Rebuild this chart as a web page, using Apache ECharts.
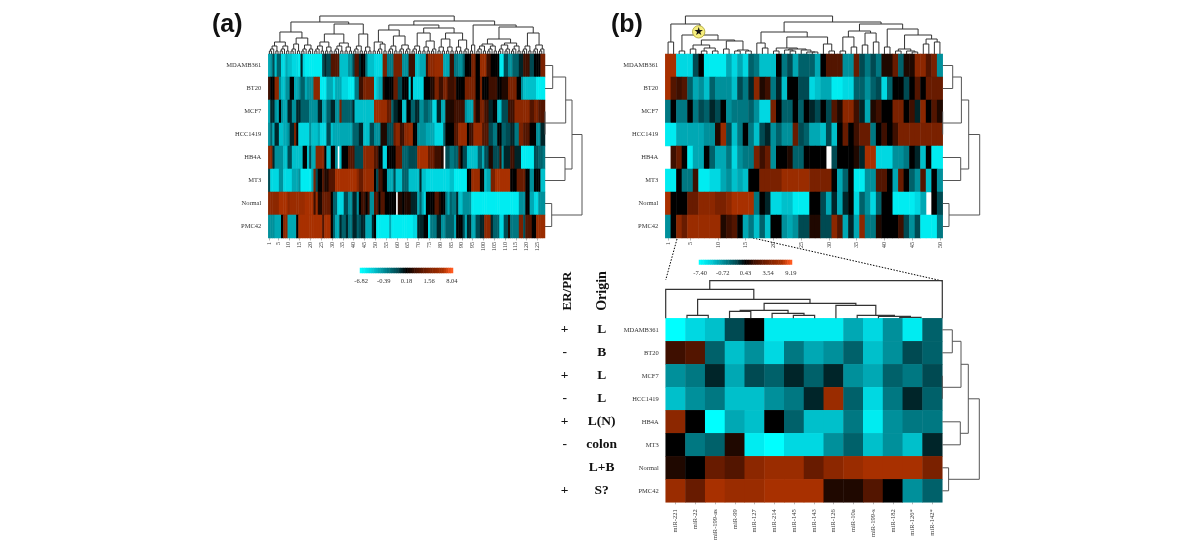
<!DOCTYPE html>
<html><head><meta charset="utf-8">
<style>html,body{margin:0;padding:0;background:#fff}#c{width:1200px;height:550px}#c canvas{filter:blur(.55px)}</style>
<script src="https://cdn.jsdelivr.net/npm/echarts@6/dist/echarts.min.js"></script>
</head><body><div id="c"></div>
<script>
const cellLines = ['MDAMB361','BT20','MCF7','HCC1419','HB4A','MT3','Normal','PMC42'];
const _ = null;
const a0=[-6,-5,-2,-7,-3,-3,-8,-8,-6,-7,-7,-8,-8,-8,-9,-1,-8,-9,-9,-9,-9,-9,-9,-9,-9,-2,-1,-2,-2,3,3,3,3,-7,-7,-7,-7,-5,-5,-2,3,3,-1,0,0,-4,-7,-7,-7,-8,-8,-8,-8,5,5,-4,-4,-4,5,5,5,5,-5,-5,-5,2,2,2,-7,-7,-6,-6,-6,2,6,6,6,7,7,7,7,-6,-6,-6,2,2,-4,-4,-5,-5,-3,0,0,0,5,5,0,0,7,7,7,2,2,0,0,0,0,-9,-9,-2,-2,-5,-5,-3,-3,-3,-1,-1,2,2,2,-2,-2,0,0,0,5,5];
const a1=[2,0,0,6,6,-5,-7,-7,-5,-5,0,0,-6,-6,-5,-3,-3,-6,-5,-5,-5,6,6,6,-9,-9,-9,-6,-6,-6,-8,-6,-6,-6,-8,-8,-8,-9,-9,-9,-4,-4,2,2,5,5,5,5,5,-8,-7,-6,-6,1,0,0,0,0,4,4,-2,-2,0,0,0,-8,0,-8,-8,-8,-8,-8,0,0,0,1,1,5,5,2,2,5,5,2,2,2,3,0,0,0,0,5,5,5,5,5,0,0,5,0,0,0,2,2,2,2,0,0,1,1,1,5,5,5,5,0,0,-5,-7,-7,-7,-7,-7,-7,-9,-9,-9,-9];
const a2=[-6,-1,-1,-5,-6,0,-5,-6,-6,-1,-1,-5,-5,-1,-1,-3,-3,-3,-3,-5,-5,-5,-5,-1,-1,-6,-6,-3,-3,-1,-1,-5,-5,5,-3,-3,-3,-3,-3,-1,-7,-7,-7,-7,-7,-7,-7,-7,-7,7,7,7,7,7,7,4,4,-3,-1,-1,0,0,-7,-7,0,0,-3,-3,-1,-1,-5,-5,-3,-3,-4,-4,-8,-8,-1,-1,-6,-6,1,1,1,1,2,2,2,2,2,-5,-6,-6,-6,4,1,1,5,5,2,2,-1,-1,0,0,-7,-7,-2,-2,-2,2,2,2,6,6,6,6,6,6,6,3,3,5,5,3,3,3];
const a3=[-5,-3,-6,-1,-1,-7,-7,-6,-6,-5,-1,-1,5,0,-8,-8,-8,-8,-8,-5,-7,-7,-7,-6,-8,-8,-8,-2,-2,-7,-6,-6,-6,-6,-6,-6,-6,-6,-6,-3,-3,-3,-1,-1,-7,-7,-7,-2,-2,-5,-5,-5,1,1,1,-2,-2,-2,4,6,6,2,2,6,6,7,7,0,0,-5,-5,-5,-5,-6,-6,-6,-6,-8,-8,-8,-8,-3,0,0,0,0,3,3,7,7,7,7,0,2,2,7,7,7,7,3,3,3,-2,-2,-4,-4,0,0,-3,-3,-2,-2,-1,-1,-4,-4,5,5,3,3,3,0,0,0,-5,-5,-1,-1];
const a4=[6,6,-1,-5,-5,-5,-5,-7,-7,-2,-2,-7,-7,-7,-7,-7,0,0,-7,-2,-6,-6,6,6,6,6,0,-7,-7,0,0,-5,_,-7,0,0,0,3,3,3,-2,-2,-2,-2,6,6,6,6,6,3,3,0,0,-8,-8,0,0,0,0,4,4,4,-3,-3,-3,-2,-2,-2,-2,8,8,8,8,8,4,4,4,2,2,2,1,_,-2,-2,-4,-4,-3,-3,3,0,-2,-2,-7,-7,-7,-7,-7,-3,-3,-6,-2,-2,1,1,-2,-2,-2,2,-5,-1,-1,-1,2,2,-1,-1,-1,-9,-9,-9,-9,-9,-9,-2,-2,-3,-3,-4];
const a5=[-2,-8,-8,-8,-8,-5,-5,-8,-8,-8,-8,-6,-6,-6,-5,-9,-9,-9,-9,-9,-6,5,-2,0,0,3,1,1,3,3,3,8,8,8,8,8,8,8,8,8,8,6,4,4,7,7,7,7,7,0,-2,2,2,0,0,-6,-6,-6,-2,-7,-7,-7,-3,-3,-3,-7,-7,-7,-7,-7,-1,-7,-7,-8,-8,-8,-8,-8,-8,-8,-8,-8,-8,-8,-7,-7,-9,-9,-9,-9,-9,-9,0,0,7,7,7,7,0,0,-7,-6,-6,5,5,8,8,8,8,8,8,8,0,0,0,4,4,4,4,0,0,-5,-5,0,0,0,-7,-7];
const a6=[6,6,6,6,6,8,8,8,8,6,7,7,7,7,7,7,7,8,8,8,8,2,7,1,1,4,4,4,4,0,-3,-3,-8,-8,-8,-2,-2,-5,-5,-1,-1,-5,0,2,2,0,2,-5,-5,3,3,0,3,3,0,0,0,0,0,_,1,1,0,1,1,1,-1,-1,-1,-6,-3,-6,-8,0,0,0,0,3,3,1,0,0,-4,-6,-3,-4,-4,-1,-7,-7,-5,-5,-5,-5,-9,-9,-9,-9,-9,-9,-9,-9,-9,-9,-9,-9,-9,-9,-9,-9,-9,-9,-9,-9,-9,-9,-5,-5,-5,0,0,-6,-6,-8,-8,-5,-5,-5];
const a7=[-5,-5,-5,-6,-6,-6,0,6,6,-6,-6,-6,-6,0,8,8,8,8,8,8,8,8,8,8,8,3,8,8,8,0,-3,-6,-6,-1,-3,-3,-1,-4,-4,-1,-1,-3,-2,-1,-1,-6,-6,-6,-1,0,-9,-9,-9,-9,-9,-9,-6,-9,-9,-9,-9,-9,-9,-9,-9,-9,-9,-8,-8,-1,-1,-1,0,0,-8,-4,-4,-4,-1,-1,-5,-5,-3,-3,-3,-3,-6,0,0,0,-2,-6,-1,-1,-6,-6,-2,-2,-1,-1,6,6,6,-1,-3,-3,-3,-8,-8,-2,-2,1,-4,-4,-4,-4,5,5,-2,3,3,3,0,0,7,7,7,7];
const b0=[8,8,-8,-8,-8,-2,0,-9,-9,-9,-9,-6,-8,-6,-8,-3,-4,-7,-7,-7,0,-4,-2,-6,-3,-3,-3,-6,0,3,3,3,-5,-5,4,-2,-4,-2,-4,1,1,4,-3,1,1,6,6,3,5,-5];
const b1=[8,3,2,3,-3,-6,-5,-7,-3,-5,-5,-5,-7,-2,-4,-1,6,1,2,-4,-1,-7,0,0,-2,-2,-8,-7,-6,-6,-9,-9,-8,-8,-3,-3,-5,-3,-2,-8,-3,0,0,-2,0,3,0,4,4,4];
const b2=[-4,0,-4,-4,0,-4,-2,-3,-1,-2,0,-5,-4,-4,-4,-3,-5,-8,-8,5,0,-3,-3,0,-3,0,-1,-2,0,-2,3,1,6,6,2,-1,-6,1,2,0,0,5,5,0,2,-1,6,0,3,1];
const b3=[-9,-9,-6,-6,-6,-6,-6,-5,-5,1,7,-2,-7,-4,0,-4,-7,-2,-1,-5,-3,-5,-5,4,-2,-3,-6,-6,-7,-2,-7,0,4,0,2,4,4,-4,0,2,0,2,5,5,5,5,5,5,5,5];
const b4=[_,2,4,0,-9,-6,-6,0,-3,-6,-6,-4,-8,-5,-4,-4,5,2,4,-5,0,0,1,-3,-3,0,0,0,0,_,-2,0,0,0,1,-1,8,8,-8,-8,-8,-5,-5,-4,0,-1,-7,0,-9,-9];
const b5=[-9,-9,0,-4,-4,2,-9,-9,-8,-8,-6,-5,-7,-6,-7,0,0,5,5,5,5,7,7,7,7,7,5,5,5,5,0,-6,-3,0,-9,-9,-5,-5,3,3,0,-6,4,0,-3,-5,3,-7,0,-5];
const b6=[8,0,0,0,4,4,6,6,6,5,5,6,8,8,8,8,-4,0,-1,-8,-8,-7,-7,-9,-9,-9,0,0,-2,-6,-1,-6,-1,0,-8,-3,-5,-8,-3,0,0,-9,-9,-9,-9,-8,-6,_,0,-2];
const b7=[-5,0,6,4,7,7,7,7,7,7,1,2,3,0,-6,-4,-7,-3,-7,0,0,-5,-6,-5,-2,-2,1,1,-2,-2,6,3,-6,-1,-6,6,-4,-4,1,0,0,0,2,-2,-5,-2,-9,-9,-9,-4];
const mirnas=['miR-221','miR-22','miR-199-as','miR-99','miR-127','miR-214','miR-145','miR-143','miR-126','miR-10a','miR-199-s','miR-182','miR-126*','miR-142*'];
const c0=[-10,-8,-7,-2,0,-9,-9,-9,-9,-6,-8,-5,-9,-3];
const c1=[2,3,-3,-7,-5,-8,-4,-6,-5,-3,-7,-5,-2,-3];
const c2=[-5,-4,-1,-6,-2,-3,-1,-3,-1,-5,-6,-3,-4,-2];
const c3=[-7,-5,-4,-7,-7,-5,-4,-1,7,-3,-8,-4,-1,-3];
const c4=[6,0,-10,-6,-7,0,-3,-7,-7,-4,-9,-5,-4,-4];
const c5=[0,-4,-3,1,-9,-10,-8,-8,-5,-3,-7,-5,-7,-1];
const c6=[1,0,4,3,6,7,7,4,6,7,8,8,8,5];
const c7=[7,4,8,7,7,8,8,8,1,1,3,0,-5,-3];
const erPr=['+','-','+','-','+','-',' ','+'];
const origin=['L','B','L','L','L(N)','colon','L+B','S?'];
const ticksA=[1,5,10,15,20,25,30,35,40,45,50,55,60,65,70,75,80,85,90,95,100,105,110,115,120,125];
const ticksB=[1,5,10,15,20,25,30,35,40,45,50];
const scaleLevels=[-10,-9.5,-9,-8.5,-8,-7.5,-7,-6.5,-6,-5.5,-5,-4.5,-4,-3.5,-3,-2.5,-2,-1.5,-1,-0.5,0,0.5,1,1.5,2,2.5,3,3.5,4,4.5,5,5.5,6,6.5,7,7.5,8,8.5,9,9.5,10];
const scaleLabelsA=['-6.82','-0.39','0.18','1.56','8.04'];
const scaleLabelsB=['-7.40','-0.72','0.43','3.54','9.19'];
const palette=['#00ffff','#00d8e2','#00a8b4','#007882','#004a52','#000000','#3e0f00','#681b00','#8c2700','#a83000','#ff5a20'];

// Dendrogram merge trees: [merge height, left child, right child]; 0 = leaf.
const p=[3,0,0], t=[5,p,0], q=[7,p,p], f=[8,t,p], s=[9,t,t];
const treeLA=[22,[12,f,f],[16,[10,t,p],s]];
const treeLB=[30,[20,[12,f,q],[11,f,q]],[20,f,q]];
const treeR1=[29,[24,[12,p,[10,t,p]],[18,f,[9,t,t]]],[26,[21,f,[13,q,t]],[21,[15,q,q],[14,q,t]]]];
const treeR2=[29,[9,p,0],[27,[15,[10,f,f],[11,s,f]],[21,f,s]]];
const treeTopA=[38,[32,treeLA,treeLB],[33,treeR1,treeR2]];
const treeB1=[30,[12,0,0],[19,[3,0,0],[14,[9,[5,0,0],[6,[3,0,0],[3,0,0]]],[13,[5,0,0],[4,[3,0,0],[3,0,0]]]]]];
const treeB2=[22,[11,0,[6,0,0]],[17,[6,[3,0,0],[5,[4,0,[3,0,0]],[4,0,[2,0,[2,0,0]]]]],[10,0,[3,0,0]]]];
const treeB3=[30,[23,[17,[3,0,0],[7,0,0]],[21,[9,0,0],[12,0,0]]],[25,[7,0,0],[19,[5,[3,0,0],[3,0,[2,0,0]]],[15,[10,0,0],[12,0,0]]]]];
const treeTopB=[38,treeB1,[32,treeB2,treeB3]];
const treeTopC=[37.7,[29,0,[19,[3,0,0],[15,[8,[7,0,0],[5,0,[3,0,0]]],[13,0,[3,0,[2,0,[1,0,0]]]]]]],0];
const treeRowA=[37,[27,[20.7,[7.7,0,0],[0,0,0]],[20,0,0]],[6.7,0,0]];
const treeRowB=[37,[26,[18.7,[10,0,0],[0,0,0]],[18,0,0]],[6.3,0,0]];

function cells(rows){const out=[];rows.forEach((r,y)=>r.forEach((v,x)=>out.push([x,y,v===null?'-':v])));return out;}
function merges(tree){let next=0;const segs=[];
  (function walk(n){if(n===0)return{pos:next++,h:0};const A=walk(n[1]),B=walk(n[2]);segs.push([A.pos,B.pos,n[0],A.h,B.h]);return{pos:(A.pos+B.pos)/2,h:n[0]};})(tree);
  return segs;}

const SERIF='"Liberation Serif","DejaVu Serif",serif';
const H=184, RH=40;
const panels=[
 {l:268.3,t:54,w:276.7,rows:[a0,a1,a2,a3,a4,a5,a6,a7],ticks:ticksA,top:treeTopA,row:treeRowA,lineW:1},
 {l:665.3,t:54,w:277.4,rows:[b0,b1,b2,b3,b4,b5,b6,b7],ticks:ticksB,top:treeTopB,row:treeRowB,lineW:1},
 {l:665.7,t:318.3,w:276.6,rows:[c0,c1,c2,c3,c4,c5,c6,c7],names:mirnas,top:treeTopC,row:treeRowB,lineW:1.2,spread:true}
];
const grid=[],xAxis=[],yAxis=[],series=[];
const hide={show:false};
function addGrid(g){grid.push(g);return grid.length-1;}
function dendro(seg,gi,horizontal,color,lw){
  const xi=xAxis.length-1, yi=yAxis.length-1;
  series.push({type:'custom',xAxisIndex:xi,yAxisIndex:yi,silent:true,clip:false,data:seg,z:3,animation:false,
    renderItem:(params,api)=>{
      const a=api.value(0),b=api.value(1),h=api.value(2),ha=api.value(3),hb=api.value(4);
      const pt=(m,n)=>api.coord(horizontal?[n,m]:[m,n]);
      return {type:'polyline',shape:{points:[pt(a,ha),pt(a,h),pt(b,h),pt(b,hb)]},style:{stroke:color,lineWidth:lw,fill:'none'},silent:true};
    }});
}
panels.forEach((P,i)=>{
  const n=P.rows[0].length;
  const gi=addGrid({left:P.l,top:P.t,width:P.w,height:H,containLabel:false});
  const xData=P.names||Array.from({length:n},(_,k)=>String(k+1));
  const isTick=k=>P.names?true:P.ticks.includes(k+1);
  xAxis.push({type:'category',gridIndex:gi,data:xData,position:'bottom',
    axisLine:hide,splitLine:hide,
    axisTick:{show:true,alignWithLabel:true,length:P.names?2:2.5,interval:k=>isTick(k),lineStyle:{color:'#888',width:.6}},
    axisLabel:{show:true,rotate:90,interval:k=>isTick(k),fontFamily:SERIF,fontSize:P.names?6.5:6,color:'#333',margin:P.names?7:4,hideOverlap:false}});
  yAxis.push({type:'category',gridIndex:gi,data:cellLines,inverse:true,
    axisLine:hide,axisTick:hide,splitLine:hide,
    axisLabel:{show:true,interval:0,fontFamily:SERIF,fontSize:6.5,color:'#333',margin:7}});
  series.push({type:'heatmap',xAxisIndex:xAxis.length-1,yAxisIndex:yAxis.length-1,data:cells(P.rows),silent:true,progressive:0,animation:false,itemStyle:{borderWidth:0}});
  if(P.names){
    [[origin,64],[erPr,101]].forEach(([labels,m])=>{
      yAxis.push({type:'category',gridIndex:gi,data:labels,inverse:true,position:'left',axisLine:hide,axisTick:hide,splitLine:hide,
        axisLabel:{show:true,interval:0,align:'center',margin:m,fontFamily:SERIF,fontWeight:'bold',fontSize:13.5,color:'#111'}});
    });
  }
  const gt=addGrid({left:P.l,top:P.t-RH,width:P.w,height:RH});
  xAxis.push({type:'value',gridIndex:gt,show:false,min:P.spread?0:-0.5,max:P.spread?n-1:n-0.5});
  yAxis.push({type:'value',gridIndex:gt,show:false,min:0,max:RH});
  dendro(merges(P.top),gt,false,'#333',P.lineW);
  const gr=addGrid({left:P.l+P.w,top:P.t,width:RH,height:H});
  xAxis.push({type:'value',gridIndex:gr,show:false,min:0,max:RH});
  yAxis.push({type:'value',gridIndex:gr,show:false,inverse:true,min:-0.5,max:7.5});
  dendro(merges(P.row),gr,true,'#555',1);
});
[[360,268,93,5,scaleLabelsA],[699,260,93,4.5,scaleLabelsB]].forEach(([l,t,w,h,labels])=>{
  const gi=addGrid({left:l,top:t,width:w,height:h});
  const data=scaleLevels.map((v,k)=>k%10===0?labels[k/10]:'');
  xAxis.push({type:'category',gridIndex:gi,data,axisLine:hide,axisTick:hide,splitLine:hide,
    axisLabel:{show:true,interval:0,fontFamily:SERIF,fontSize:6.5,color:'#333',margin:5,hideOverlap:false}});
  yAxis.push({type:'category',gridIndex:gi,data:['scale'],show:false});
  series.push({type:'heatmap',xAxisIndex:xAxis.length-1,yAxisIndex:yAxis.length-1,silent:true,animation:false,
    data:scaleLevels.map((v,k)=>[k,0,v])});
});
const heatIdx=series.map((s,i)=>s.type==='heatmap'?i:-1).filter(i=>i>=0);
const chart=echarts.init(document.getElementById('c'),null,{renderer:'canvas'});
chart.setOption({
  animation:false,backgroundColor:'#fff',tooltip:{show:false},
  grid,xAxis,yAxis,series,
  visualMap:{show:false,type:'continuous',min:-10,max:10,seriesIndex:heatIdx,inRange:{color:palette}},
  graphic:[
   {type:'text',left:212,top:13,style:{text:'(a)',font:'bold 25px "Liberation Sans",sans-serif',fill:'#111'}},
   {type:'text',left:611,top:13,style:{text:'(b)',font:'bold 25px "Liberation Sans",sans-serif',fill:'#111'}},
   {type:'text',x:568,y:291,rotation:Math.PI/2,style:{text:'ER/PR',font:'bold 13px "Liberation Serif",serif',fill:'#111',align:'center',verticalAlign:'middle'}},
   {type:'text',x:602,y:291,rotation:Math.PI/2,style:{text:'Origin',font:'bold 14px "Liberation Serif",serif',fill:'#111',align:'center',verticalAlign:'middle'}},
   {type:'line',shape:{x1:677,y1:239,x2:665.7,y2:280},style:{stroke:'#000',lineWidth:1,lineDash:[1.5,1.5]}},
   {type:'line',shape:{x1:753,y1:238,x2:942.5,y2:281},style:{stroke:'#000',lineWidth:1,lineDash:[1.5,1.5]}},
   {type:'circle',shape:{cx:698.7,cy:31.8,r:6.2},z:10,style:{fill:'#f6ee7e',stroke:'#a8a030',lineWidth:.8}},
   {type:'text',x:698.7,y:31.8,z:11,style:{text:'★',font:'11px "DejaVu Sans",sans-serif',fill:'#111',align:'center',verticalAlign:'middle'}}
  ]
});
</script></body></html>
